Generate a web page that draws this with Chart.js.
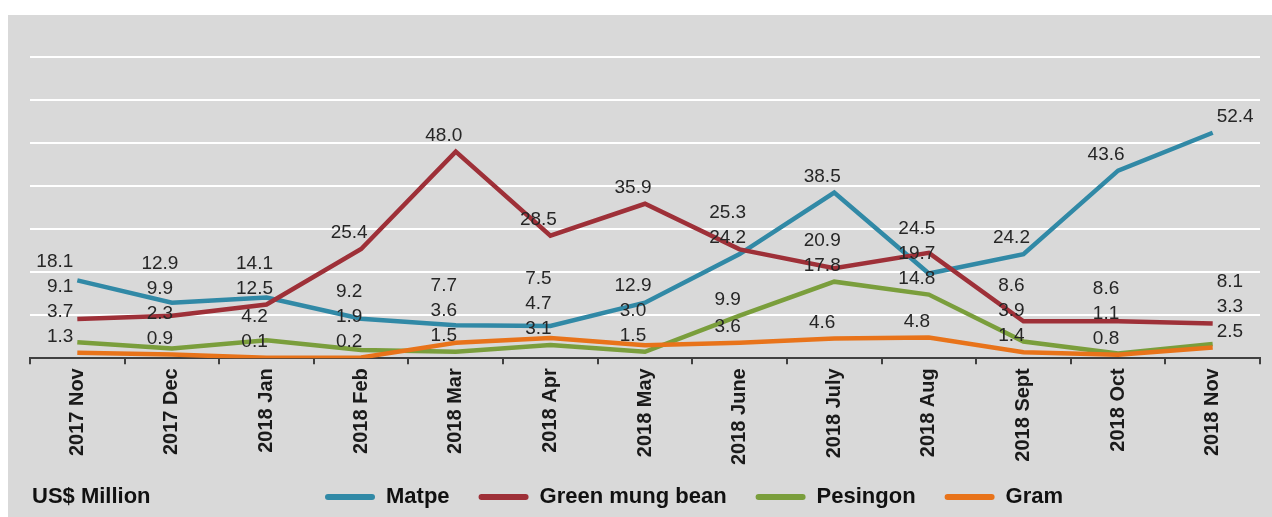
<!DOCTYPE html>
<html>
<head>
<meta charset="utf-8">
<script src="https://cdn.jsdelivr.net/npm/chart.js@4.4.1/dist/chart.umd.min.js"></script>
<style>
html,body{margin:0;padding:0;background:#ffffff;width:1272px;height:517px;overflow:hidden;}
#frame{position:absolute;left:8px;top:15px;width:1264px;height:502px;background:#d9d9d9;}
canvas{display:block;}
</style>
</head>
<body>
<div id="frame"><canvas id="c" width="1264" height="502"></canvas></div>
<script>
// ---- data ----
const categories = ['2017 Nov','2017 Dec','2018 Jan','2018 Feb','2018 Mar','2018 Apr','2018 May','2018 June','2018 July','2018 Aug','2018 Sept','2018 Oct','2018 Nov'];
const matpe      = [18.1, 12.9, 14.1, 9.2, 7.7, 7.5, 12.9, 24.2, 38.5, 19.7, 24.2, 43.6, 52.4];
const greenMung  = [9.1, 9.9, 12.5, 25.4, 48.0, 28.5, 35.9, 25.3, 20.9, 24.5, 8.6, 8.6, 8.1];
const pesingon   = [3.7, 2.3, 4.2, 1.9, 1.5, 3.1, 1.5, 9.9, 17.8, 14.8, 3.9, 1.1, 3.3];
const gram       = [1.3, 0.9, 0.1, 0.2, 3.6, 4.7, 3.0, 3.6, 4.6, 4.8, 1.4, 0.8, 2.5];
const seriesNames = ['Matpe', 'Green mung bean', 'Pesingon', 'Gram'];
const yTicks = [0, 10, 20, 30, 40, 50, 60, 70];
const unitLabel = 'US$ Million';

const colors = ['#3189a6', '#9e3038', '#7a9e3c', '#e8731a'];
const seriesValues = [matpe, greenMung, pesingon, gram];

const FONT = '"Liberation Sans", Arial, sans-serif';

const valueLabels = {
  id: 'valueLabels',
  afterDatasetsDraw(chart) {
    const ctx = chart.ctx;
    const n = categories.length;
    ctx.save();
    ctx.font = '19px ' + FONT;
    ctx.fillStyle = '#262626';
    ctx.textBaseline = 'middle';
    for (let i = 0; i < n; i++) {
      const items = chart.data.datasets.map((ds, di) => {
        const el = chart.getDatasetMeta(di).data[i];
        return { v: ds.data[i], x: el.x, y: el.y };
      });
      items.sort((a, b) => b.y - a.y);
      let prev = Infinity;
      items.forEach(it => {
        const ly = Math.min(it.y - 16, prev - 25);
        it.ly = ly; prev = ly;
      });
      items.forEach(it => {
        let x = it.x - 12, align = 'center';
        if (i === 0) { align = 'right'; x = it.x - 4; }
        else if (i === n - 1) { align = 'left'; x = it.x + 4; }
        ctx.textAlign = align;
        ctx.fillText(it.v.toFixed(1), x, it.ly);
      });
    }
    ctx.restore();
  }
};

const customLegend = {
  id: 'customLegend',
  afterDraw(chart) {
    const ctx = chart.ctx;
    const cy = 482;
    ctx.save();
    ctx.font = 'bold 22px ' + FONT;
    ctx.fillStyle = '#111111';
    ctx.textBaseline = 'middle';
    ctx.textAlign = 'left';
    ctx.fillText(unitLabel, 24, cy);
    let x = 317;
    chart.data.datasets.forEach(ds => {
      ctx.strokeStyle = ds.borderColor;
      ctx.lineWidth = 6;
      ctx.lineCap = 'round';
      ctx.beginPath();
      ctx.moveTo(x + 3, cy);
      ctx.lineTo(x + 47, cy);
      ctx.stroke();
      ctx.fillStyle = '#111111';
      ctx.fillText(ds.label, x + 61, cy);
      x += 61 + ctx.measureText(ds.label).width + 29;
    });
    ctx.restore();
  }
};

new Chart(document.getElementById('c'), {
  type: 'line',
  data: {
    labels: categories,
    datasets: seriesNames.map((name, i) => ({
      label: name,
      data: seriesValues[i],
      borderColor: colors[i],
      backgroundColor: colors[i],
      borderWidth: 4.5,
      pointRadius: 0,
      tension: 0,
      fill: false,
      order: 3 - i
    }))
  },
  options: {
    responsive: false,
    animation: false,
    devicePixelRatio: 1,
    layout: { padding: { left: 22, right: 12, top: 42, bottom: 48 } },
    plugins: {
      legend: { display: false },
      tooltip: { enabled: false },
      title: { display: false }
    },
    scales: {
      x: {
        offset: true,
        grid: {
          offset: true,
          display: true,
          drawOnChartArea: false,
          drawTicks: true,
          tickLength: 6,
          color: '#404040',
          lineWidth: 2
        },
        border: { display: true, color: '#404040', width: 2 },
        ticks: {
          minRotation: 90,
          maxRotation: 90,
          padding: 4,
          color: '#1a1a1a',
          font: { family: FONT, size: 20, weight: 'bold' }
        }
      },
      y: {
        min: yTicks[0],
        max: yTicks[yTicks.length - 1],
        afterBuildTicks(axis) { axis.ticks = yTicks.map(v => ({ value: v })); },
        grid: { color: '#ffffff', lineWidth: 2, drawTicks: false },
        border: { display: false },
        ticks: { display: false }
      }
    }
  },
  plugins: [valueLabels, customLegend]
});
</script>
</body>
</html>
